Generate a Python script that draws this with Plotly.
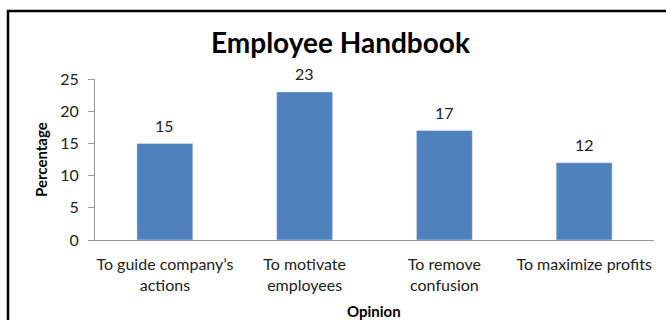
import plotly.graph_objects as go

categories = ["To guide company\u2019s<br>actions", "To motivate<br>employees",
              "To remove<br>confusion", "To maximize profits"]
values = [15, 23, 17, 12]
y_ticks = [0, 5, 10, 15, 20, 25]

FONT = "Lato"
BAR = "#4F81BD"

W, H = 666, 320
ML, MR, MT, MB = 95, 12, 79, 80
pw = W - ML - MR
ph = H - MT - MB

def px_x(p):
    return (p - ML) / pw

def px_y(p):
    return (H - MB - p) / ph

fig = go.Figure(go.Bar(x=categories, y=values, marker_color=BAR, width=0.4,
                       hoverinfo="skip"))

for c, v in zip(categories, values):
    fig.add_annotation(x=c, y=v, text=str(v), showarrow=False, yshift=18,
                       xanchor="center", yanchor="middle",
                       font=dict(family=FONT, size=16, color="#222"))

fig.add_annotation(text="<b>Employee Handbook</b>", xref="paper", yref="paper",
                   x=px_x(340), y=px_y(42), showarrow=False,
                   xanchor="center", yanchor="middle",
                   font=dict(family=FONT, size=28, color="black"))
fig.add_annotation(text="<b>Opinion</b>", xref="paper", yref="paper",
                   x=px_x(374), y=px_y(311), showarrow=False,
                   xanchor="center", yanchor="middle",
                   font=dict(family=FONT, size=15, color="black"))
fig.add_annotation(text="<b>Percentage</b>", xref="paper", yref="paper",
                   x=px_x(41), y=px_y(160), showarrow=False, textangle=-90,
                   xanchor="center", yanchor="middle",
                   font=dict(family=FONT, size=15, color="black"))

fig.add_shape(type="rect", xref="paper", yref="paper",
              x0=px_x(8), x1=px_x(680), y0=px_y(335), y1=px_y(11),
              line=dict(color="black", width=2.5), fillcolor="rgba(0,0,0,0)")

fig.update_layout(
    width=W, height=H,
    margin=dict(l=ML, r=MR, t=MT, b=MB),
    paper_bgcolor="white", plot_bgcolor="white",
    showlegend=False,
    font=dict(family=FONT, size=16, color="#222"),
    xaxis=dict(showline=True, linecolor="#9a9a9a", linewidth=1, ticks="",
               showgrid=False, ticklabelstandoff=10, tickfont=dict(size=16)),
    yaxis=dict(range=[0, 25], tickvals=y_ticks, showline=True, linecolor="#9a9a9a",
               linewidth=1, ticks="outside", ticklen=6, tickcolor="#9a9a9a",
               showgrid=False, zeroline=False, ticklabelstandoff=6,
               tickfont=dict(size=16)),
)

fig.write_html("out.html")
